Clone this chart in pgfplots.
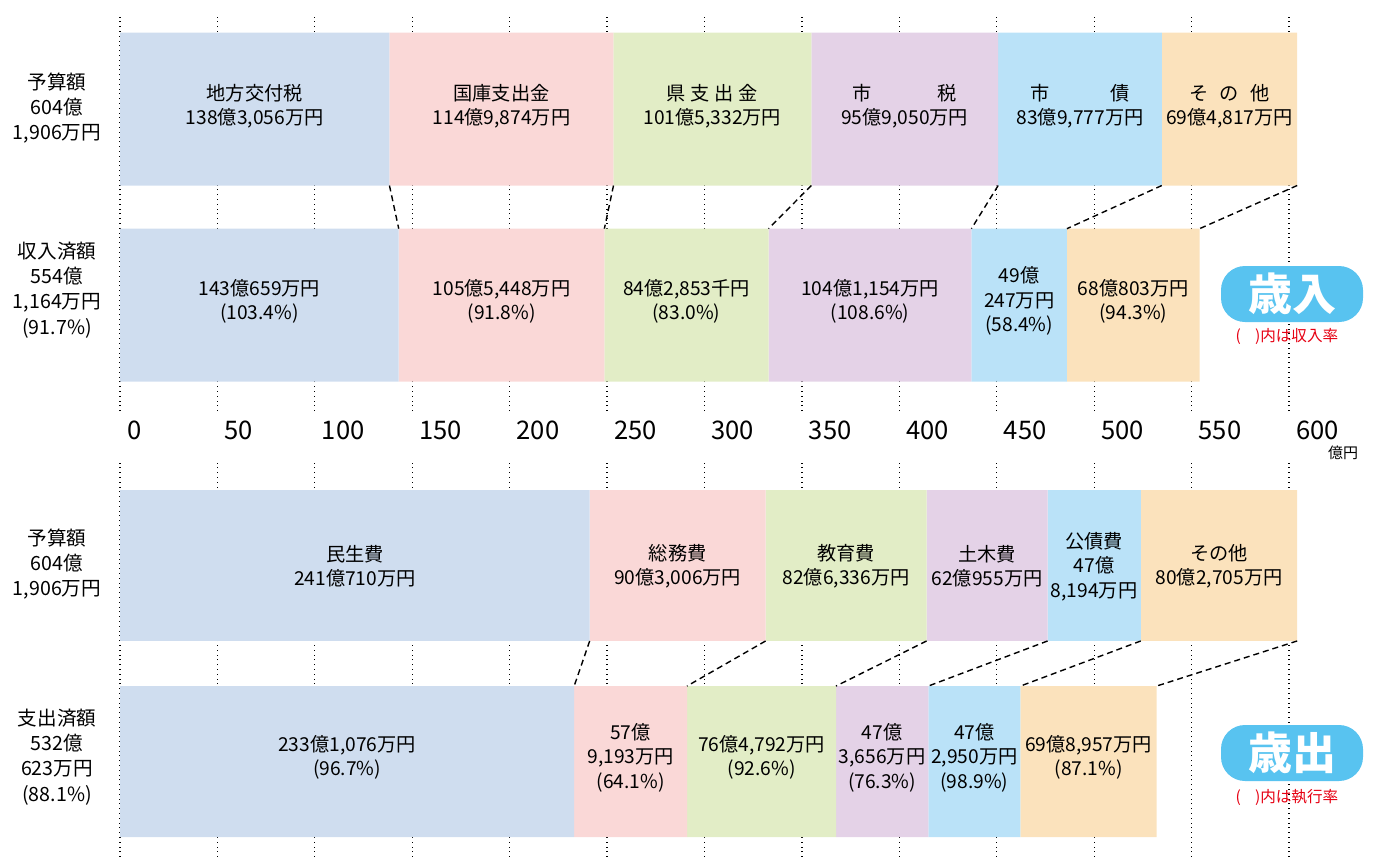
\documentclass[border=0pt]{standalone}
\usepackage{fontspec}
\setmainfont{Noto Sans CJK JP}
\usepackage{pgfplots}
\pgfplotsset{compat=1.18}
\definecolor{cA}{RGB}{207,221,239}
\definecolor{cB}{RGB}{250,216,215}
\definecolor{cC}{RGB}{226,237,198}
\definecolor{cD}{RGB}{228,210,231}
\definecolor{cE}{RGB}{186,226,248}
\definecolor{cF}{RGB}{251,226,188}
\definecolor{badge}{RGB}{88,195,240}
\definecolor{notered}{RGB}{230,0,18}
\pgfplotsset{
  panel/.style={scale only axis, width=584.5pt, xmin=0, xmax=600,
    xtick={0,50,...,600}, ytick=\empty, anchor=north west, clip=false,
    axis line style={draw=none}, tick style={draw=none},
    /pgf/number format/assume math mode=true},
  gridded/.style={xmajorgrids, major grid style={black, dotted, line width=0.6pt}},
}
\tikzset{
  lbl/.style={align=center, font=\fontsize{9.6}{12.2}\selectfont, yshift=2pt},
  lblt/.style={align=center, font=\fontsize{9.6}{12.2}\selectfont, yshift=1.5pt},
  lblb/.style={align=center, font=\fontsize{9.6}{12.2}\selectfont, yshift=-0.5pt},
  side/.style={align=center, font=\fontsize{9.8}{12.6}\selectfont},
  conn/.style={black, line width=0.7pt, dash pattern=on 3pt off 2pt}
}
\begin{document}
\begin{tikzpicture}
\useasboundingbox (0,0) rectangle (686.5pt,-428.5pt);
% ===== top panel: revenue =====
\begin{axis}[panel, gridded, at={(60pt,-6.5pt)}, height=199pt, ymin=-0.54, ymax=1.49,
  xbar stacked, bar width=0.78,
  xticklabel style={font=\fontsize{12.8}{14}\selectfont, anchor=north west, yshift=-1.5pt}]
\addplot[fill=cA, draw=none] coordinates {(138.3056,1) (143.0659,0)};
\addplot[fill=cB, draw=none] coordinates {(114.9874,1) (105.5448,0)};
\addplot[fill=cC, draw=none] coordinates {(101.5332,1) (84.2853,0)};
\addplot[fill=cD, draw=none] coordinates {(95.9050,1) (104.1154,0)};
\addplot[fill=cE, draw=none] coordinates {(83.9777,1) (49.0247,0)};
\addplot[fill=cF, draw=none] coordinates {(69.4817,1) (68.0803,0)};
\end{axis}
\begin{axis}[panel, hide axis, at={(60pt,-6.5pt)}, height=199pt, ymin=-0.54, ymax=1.49]
\addplot[conn] coordinates {(138.3056,0.61) (143.0659,0.39)};
\addplot[conn] coordinates {(253.2930,0.61) (248.6107,0.39)};
\addplot[conn] coordinates {(354.8262,0.61) (332.8960,0.39)};
\addplot[conn] coordinates {(450.7312,0.61) (437.0114,0.39)};
\addplot[conn] coordinates {(534.7089,0.61) (486.0361,0.39)};
\addplot[conn] coordinates {(604.1906,0.61) (554.1164,0.39)};
\node[lblt] at (axis cs:69.15,1) {地方交付税\\138億3,056万円};
\node[lblt] at (axis cs:195.80,1) {国庫支出金\\114億9,874万円};
\node[lblt] at (axis cs:304.06,1) {県\hspace{0.25em}支\hspace{0.25em}出\hspace{0.25em}金\\101億5,332万円};
\node[lblt] at (axis cs:402.78,1) {\makebox[5.4em][s]{市\hfill 税}\\95億9,050万円};
\node[lblt] at (axis cs:492.72,1) {\makebox[5.2em][s]{市\hfill 債}\\83億9,777万円};
\node[lblt] at (axis cs:569.45,1) {そ\hspace{0.6em}の\hspace{0.6em}他\\69億4,817万円};
\node[lbl] at (axis cs:71.53,0) {143億659万円\\(103.4\%)};
\node[lbl] at (axis cs:195.84,0) {105億5,448万円\\(91.8\%)};
\node[lbl] at (axis cs:290.75,0) {84億2,853千円\\(83.0\%)};
\node[lbl] at (axis cs:384.95,0) {104億1,154万円\\(108.6\%)};
\node[lbl] at (axis cs:461.52,0) {49億\\247万円\\(58.4\%)};
\node[lbl] at (axis cs:520.08,0) {68億803万円\\(94.3\%)};
\end{axis}
% ===== bottom panel: expenditure =====
\begin{axis}[panel, gridded, at={(60pt,-231pt)}, height=197.5pt, ymin=-0.487, ymax=1.528,
  xbar stacked, bar width=0.77, xticklabels={}]
\addplot[fill=cA, draw=none] coordinates {(241.0710,1) (233.1076,0)};
\addplot[fill=cB, draw=none] coordinates {(90.3006,1) (57.9193,0)};
\addplot[fill=cC, draw=none] coordinates {(82.6336,1) (76.4792,0)};
\addplot[fill=cD, draw=none] coordinates {(62.0955,1) (47.3656,0)};
\addplot[fill=cE, draw=none] coordinates {(47.8194,1) (47.2950,0)};
\addplot[fill=cF, draw=none] coordinates {(80.2705,1) (69.8957,0)};
\end{axis}
\begin{axis}[panel, hide axis, at={(60pt,-231pt)}, height=197.5pt, ymin=-0.487, ymax=1.528]
\addplot[conn] coordinates {(241.0710,0.615) (233.1076,0.385)};
\addplot[conn] coordinates {(331.3716,0.615) (291.0269,0.385)};
\addplot[conn] coordinates {(414.0052,0.615) (367.5061,0.385)};
\addplot[conn] coordinates {(476.1007,0.615) (414.8717,0.385)};
\addplot[conn] coordinates {(523.9201,0.615) (462.1667,0.385)};
\addplot[conn] coordinates {(604.1906,0.615) (532.0624,0.385)};
\node[lblb] at (axis cs:120.54,1) {民生費\\241億710万円};
\node[lblb] at (axis cs:286.22,1) {総務費\\90億3,006万円};
\node[lblb] at (axis cs:372.69,1) {教育費\\82億6,336万円};
\node[lblb] at (axis cs:445.05,1) {土木費\\62億955万円};
\node[lblb] at (axis cs:500.01,1) {公債費\\47億\\8,194万円};
\node[lblb] at (axis cs:564.06,1) {その他\\80億2,705万円};
\node[lbl] at (axis cs:116.55,0) {233億1,076万円\\(96.7\%)};
\node[lbl] at (axis cs:262.07,0) {57億\\9,193万円\\(64.1\%)};
\node[lbl] at (axis cs:329.27,0) {76億4,792万円\\(92.6\%)};
\node[lbl] at (axis cs:391.19,0) {47億\\3,656万円\\(76.3\%)};
\node[lbl] at (axis cs:438.52,0) {47億\\2,950万円\\(98.9\%)};
\node[lbl] at (axis cs:497.11,0) {69億8,957万円\\(87.1\%)};
\end{axis}
% side labels
\node[side] at (28.5pt,-54pt) {予算額\\604億\\1,906万円};
\node[side] at (28.5pt,-145pt) {収入済額\\554億\\1,164万円\\(91.7\%)};
\node[side] at (28.5pt,-282pt) {予算額\\604億\\1,906万円};
\node[side] at (28.5pt,-378.5pt) {支出済額\\532億\\623万円\\(88.1\%)};
% unit
\node[font=\fontsize{7.5}{9}\selectfont] at (671.5pt,-226.5pt) {億円};
% badges
\node[fill=badge, rounded corners=12pt, minimum width=71pt, minimum height=28pt, inner sep=0pt,
  text=white, font=\bfseries\fontsize{22}{22}\selectfont] at (646pt,-147pt) {歳入};
\node[text=notered, font=\fontsize{7.8}{9}\selectfont] at (643.5pt,-168pt) {(\hspace{0.9em})内は収入率};
\node[fill=badge, rounded corners=12pt, minimum width=71pt, minimum height=28pt, inner sep=0pt,
  text=white, font=\bfseries\fontsize{22}{22}\selectfont] at (646pt,-376.5pt) {歳出};
\node[text=notered, font=\fontsize{7.8}{9}\selectfont] at (643.5pt,-398.5pt) {(\hspace{0.9em})内は執行率};
\end{tikzpicture}
\end{document}
